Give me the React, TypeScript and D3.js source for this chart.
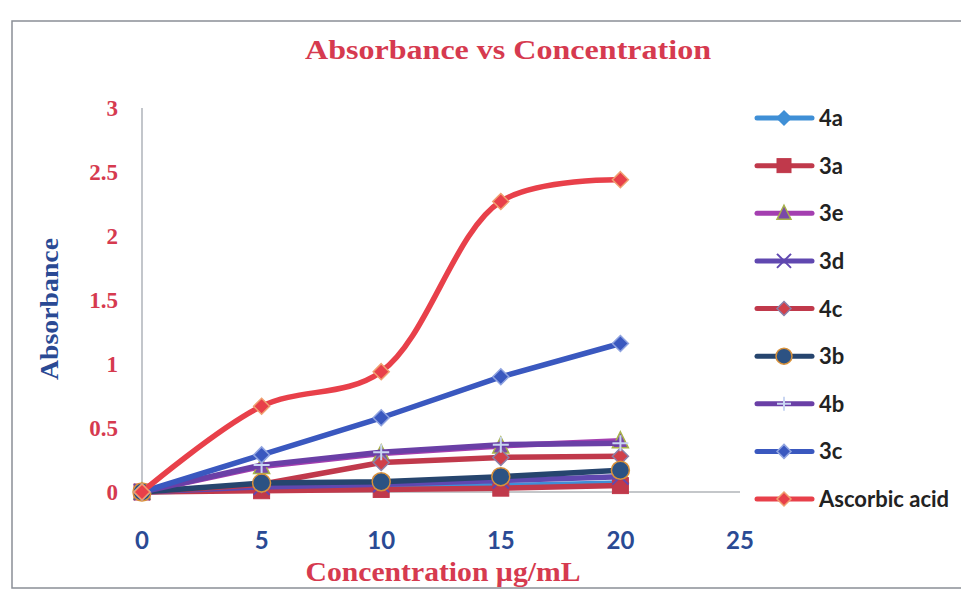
import * as d3 from "d3";

const concentrations = [0, 5, 10, 15, 20];

const seriesNames = ["4a", "3a", "3e", "3d", "4c", "3b", "4b", "3c", "Ascorbic acid"];

const values4a = [0, 0.02, 0.03, 0.05, 0.07];
const values3a = [0, 0.01, 0.02, 0.03, 0.05];
const values3e = [0, 0.2, 0.3, 0.36, 0.4];
const values3d = [0, 0.04, 0.06, 0.09, 0.12];
const values4c = [0, 0.06, 0.23, 0.27, 0.28];
const values3b = [0, 0.07, 0.08, 0.12, 0.17];
const values4b = [0, 0.21, 0.31, 0.37, 0.38];
const values3c = [0, 0.29, 0.58, 0.9, 1.16];
const valuesAscorbic = [0, 0.67, 0.94, 2.27, 2.44];

const yTickLabels = ["0", "0.5", "1", "1.5", "2", "2.5", "3"];
const xTickLabels = ["0", "5", "10", "15", "20", "25"];

type Shape = "diamond" | "square" | "triangle" | "x" | "circle" | "plus";

interface Style {
  line: string;
  shape: Shape;
  fill: string;
  stroke: string;
  smooth?: boolean;
}

const styles: Style[] = [
  { line: "#3f8fd6", shape: "diamond", fill: "#3f8fd6", stroke: "#3f8fd6" },
  { line: "#c0394b", shape: "square", fill: "#c0394b", stroke: "#c0394b" },
  { line: "#a43fb0", shape: "triangle", fill: "#7a4aa8", stroke: "#a8b24a" },
  { line: "#6048b0", shape: "x", fill: "none", stroke: "#6048b0" },
  { line: "#c0394b", shape: "diamond", fill: "#d0404a", stroke: "#8a7fa8" },
  { line: "#26456e", shape: "circle", fill: "#2c5283", stroke: "#d9913a" },
  { line: "#6a3fa6", shape: "plus", fill: "none", stroke: "#c9d6f2" },
  { line: "#3a58bf", shape: "diamond", fill: "#3a58bf", stroke: "#8fa3e0" },
  { line: "#e8404a", shape: "diamond", fill: "#e8404a", stroke: "#f0a070", smooth: true },
];

const allValues = [
  values4a, values3a, values3e, values3d, values4c, values3b, values4b, values3c, valuesAscorbic,
];

function Marker({ shape, cx, cy, fill, stroke, size = 8 }: { shape: Shape; cx: number; cy: number; fill: string; stroke: string; size?: number }) {
  const s = size;
  switch (shape) {
    case "diamond":
      return <path d={`M${cx},${cy - s}L${cx + s},${cy}L${cx},${cy + s}L${cx - s},${cy}Z`} fill={fill} stroke={stroke} strokeWidth={1.5} />;
    case "square":
      return <rect x={cx - s} y={cy - s} width={2 * s} height={2 * s} fill={fill} stroke={stroke} strokeWidth={1} />;
    case "triangle":
      return <path d={`M${cx},${cy - s - 1}L${cx + s},${cy + s - 1}L${cx - s},${cy + s - 1}Z`} fill={fill} stroke={stroke} strokeWidth={1.5} />;
    case "x":
      return <path d={`M${cx - s},${cy - s}L${cx + s},${cy + s}M${cx + s},${cy - s}L${cx - s},${cy + s}`} stroke={stroke} strokeWidth={2} />;
    case "circle":
      return <circle cx={cx} cy={cy} r={s + 1} fill={fill} stroke={stroke} strokeWidth={1.5} />;
    case "plus":
      return <path d={`M${cx - s},${cy}L${cx + s},${cy}M${cx},${cy - s}L${cx},${cy + s}`} stroke={stroke} strokeWidth={2} />;
  }
}

export default function App() {
  const width = 961;
  const height = 591;
  const x = d3.scaleLinear([0, 25], [142, 740]);
  const y = d3.scaleLinear([0, 3], [492, 108]);

  const straight = d3
    .line<number>()
    .x((_, i) => x(concentrations[i]))
    .y((d) => y(d));
  const smooth = d3
    .line<number>()
    .x((_, i) => x(concentrations[i]))
    .y((d) => y(d))
    .curve(d3.curveCatmullRom.alpha(0.5));

  const yTicks = y.ticks(6);
  const xTicks = x.ticks(5);
  const legendY = d3.scalePoint(seriesNames, [118, 499]);

  const serif = "'Liberation Serif', 'Times New Roman', serif";
  const sans = "Lato, 'Open Sans', sans-serif";

  return (
    <svg width={width} height={height} style={{ position: "absolute", left: 0, top: 0, background: "#fff" }}>
      <rect x={12} y={21} width={970} height={567} fill="#fff" stroke="#8a8f96" strokeWidth={1.5} />
      <text x={508} y={59} textAnchor="middle" fontFamily={serif} fontWeight="bold" fontSize={28} fill="#d63a4f" textLength={406} lengthAdjust="spacingAndGlyphs">
        Absorbance vs Concentration
      </text>

      <line x1={x(0)} x2={x(0)} y1={y(3)} y2={y(0)} stroke="#9aa0a8" strokeWidth={1.2} />
      <line x1={x(0)} x2={x(25)} y1={y(0)} y2={y(0)} stroke="#8a9096" strokeWidth={1.2} />

      {yTicks.map((t, i) => (
        <text key={t} x={118} y={y(t) + 8} textAnchor="end" fontFamily={serif} fontWeight="bold" fontSize={23} fill="#d63a4f">
          {yTickLabels[i]}
        </text>
      ))}
      {xTicks.map((t, i) => (
        <text key={t} x={x(t)} y={549} textAnchor="middle" fontFamily={sans} fontWeight="bold" fontSize={24} fill="#2a4a94">
          {xTickLabels[i]}
        </text>
      ))}

      <text transform="translate(58,309) rotate(-90)" textAnchor="middle" fontFamily={serif} fontWeight="bold" fontSize={25} fill="#2a4a94" textLength={142} lengthAdjust="spacingAndGlyphs">
        Absorbance
      </text>
      <text x={443} y={581} textAnchor="middle" fontFamily={serif} fontWeight="bold" fontSize={27} fill="#d63a4f" textLength={275} lengthAdjust="spacingAndGlyphs">
        Concentration µg/mL
      </text>

      {allValues.map((vals, si) => {
        const st = styles[si];
        return (
          <g key={seriesNames[si]}>
            <path d={(st.smooth ? smooth(vals) : straight(vals)) as string} fill="none" stroke={st.line} strokeWidth={5.5} strokeLinejoin="round" />
            {vals.map((v, i) => (
              <Marker key={i} shape={st.shape} cx={x(concentrations[i])} cy={y(v)} fill={st.fill} stroke={st.stroke} />
            ))}
          </g>
        );
      })}

      {seriesNames.map((name, si) => {
        const st = styles[si];
        const ly = legendY(name)!;
        return (
          <g key={name}>
            <line x1={757} x2={812} y1={ly} y2={ly} stroke={st.line} strokeWidth={5} strokeLinecap="round" />
            <Marker shape={st.shape} cx={784} cy={ly} fill={st.fill} stroke={st.stroke} size={7} />
            <text x={819} y={ly + 8} fontFamily={sans} fontWeight="bold" fontSize={22} fill="#222">
              {name}
            </text>
          </g>
        );
      })}
    </svg>
  );
}
